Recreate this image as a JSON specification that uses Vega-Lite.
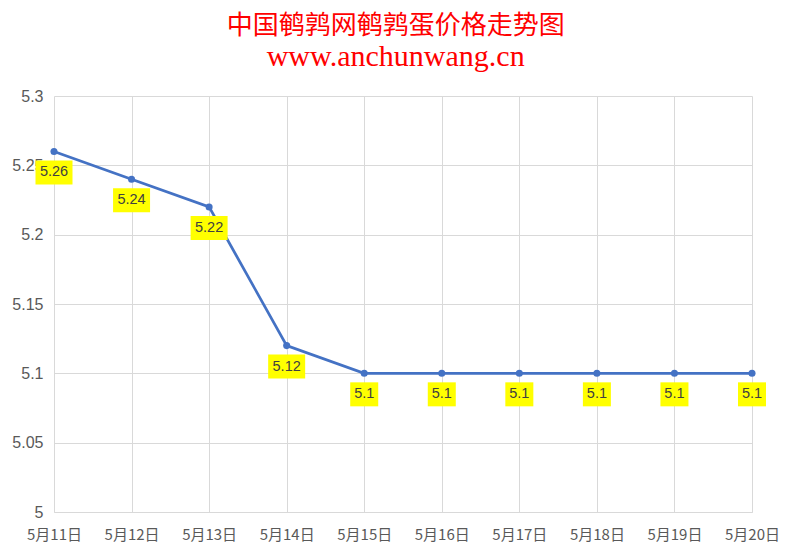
{
  "$schema": "https://vega.github.io/schema/vega-lite/v6.json",
  "autosize": "none",
  "width": 698,
  "height": 416,
  "padding": {"left": 54, "top": 96, "right": 37, "bottom": 43},
  "background": "white",
  "title": {
    "text": "中国鹌鹑网鹌鹑蛋价格走势图",
    "subtitle": "www.anchunwang.cn",
    "anchor": "middle",
    "frame": "bounds",
    "font": "Noto Sans CJK SC",
    "fontSize": 26,
    "fontWeight": "normal",
    "color": "#FF0000",
    "subtitleFont": "Liberation Serif",
    "subtitleFontSize": 30,
    "subtitleColor": "#FF0000",
    "subtitlePadding": 3,
    "offset": 16
  },
  "config": {
    "view": {"stroke": null},
    "axis": {
      "gridColor": "#d9d9d9",
      "gridWidth": 1,
      "domainColor": "#d9d9d9",
      "ticks": false,
      "labelColor": "#595959",
      "title": null
    }
  },
  "data": {
    "values": [
      {"date": "5月11日", "price": 5.26},
      {"date": "5月12日", "price": 5.24},
      {"date": "5月13日", "price": 5.22},
      {"date": "5月14日", "price": 5.12},
      {"date": "5月15日", "price": 5.1},
      {"date": "5月16日", "price": 5.1},
      {"date": "5月17日", "price": 5.1},
      {"date": "5月18日", "price": 5.1},
      {"date": "5月19日", "price": 5.1},
      {"date": "5月20日", "price": 5.1}
    ]
  },
  "encoding": {
    "x": {
      "field": "date",
      "type": "ordinal",
      "sort": null,
      "scale": {"type": "point", "padding": 0},
      "axis": {
        "labelAngle": 0,
        "grid": true,
        "domain": true,
        "labelFont": "Noto Sans CJK SC",
        "labelFontSize": 15,
        "labelPadding": 15
      }
    },
    "y": {
      "field": "price",
      "type": "quantitative",
      "scale": {"domain": [5, 5.3], "nice": false, "zero": false},
      "axis": {
        "values": [5, 5.05, 5.1, 5.15, 5.2, 5.25, 5.3],
        "format": "~g",
        "grid": true,
        "domain": false,
        "labelFont": "Liberation Sans",
        "labelFontSize": 16,
        "labelPadding": 11
      }
    }
  },
  "layer": [
    {
      "mark": {"type": "line", "color": "#4472C4", "strokeWidth": 2.75,
        "point": {"filled": true, "size": 50, "color": "#4472C4"}}
    },
    {
      "mark": {"type": "point", "filled": true, "fill": "#FFFF00", "opacity": 1, "strokeWidth": 0, "yOffset": 21, "size": 1369},
      "encoding": {
        "shape": {
          "condition": {"test": "datum.price < 5.11", "value": "M-0.757,-0.6486L0.757,-0.6486L0.757,0.6486L-0.757,0.6486Z"},
          "value": "M-1,-0.6486L1,-0.6486L1,0.6486L-1,0.6486Z"
        }
      }
    },
    {
      "mark": {"type": "text", "yOffset": 21, "baseline": "middle", "align": "center", "font": "Liberation Sans", "fontSize": 14.5, "color": "#404040"},
      "encoding": {
        "text": {"field": "price", "type": "quantitative", "format": "~g"}
      }
    }
  ]
}
